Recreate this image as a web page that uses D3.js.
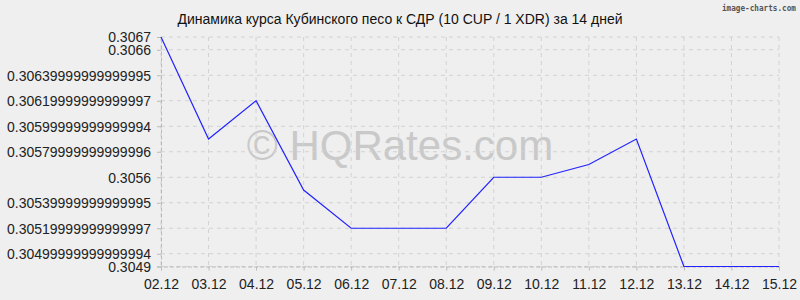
<!DOCTYPE html>
<html><head><meta charset="utf-8">
<script src="https://cdn.jsdelivr.net/npm/d3@7"></script>
<style>
html,body{margin:0;padding:0;background:#efefef;}
svg{display:block;font-family:"Liberation Sans",Arial,sans-serif;}
</style></head>
<body><svg id="c" width="800" height="300"></svg>
<script>
const title = "Динамика курса Кубинского песо к СДР (10 CUP / 1 XDR) за 14 дней";
const dates = ["02.12","03.12","04.12","05.12","06.12","07.12","08.12","09.12","10.12","11.12","12.12","13.12","14.12","15.12"];
const rates = [0.3067,0.3059,0.3062,0.3055,0.3052,0.3052,0.3052,0.3056,0.3056,0.3057,0.3059,0.3049,0.3049,0.3049];
const yTickValues = [0.3049,0.3050,0.3052,0.3054,0.3056,0.3058,0.3060,0.3062,0.3064,0.3066,0.3067];
const yTickLabels = ["0.3049","0.30499999999999994","0.30519999999999997","0.30539999999999995","0.3056","0.30579999999999996","0.30599999999999994","0.30619999999999997","0.30639999999999995","0.3066","0.3067"];

const svg = d3.select("#c");
const L = 161, R = 779, T = 37, B = 266.5;
const x = d3.scalePoint().domain(dates).range([L, R]);
const y = d3.scaleLinear().domain([0.3049, 0.3067]).range([B, T]);

svg.append("rect").attr("width",800).attr("height",300).attr("fill","#efefef");

// watermark
svg.append("text").attr("x",400).attr("y",160).attr("text-anchor","middle")
  .attr("font-size",42).attr("fill","#c9c9c9").text("© HQRates.com");

// grid
const grid = svg.append("g");
grid.selectAll("line.v").data(dates).join("line")
  .attr("x1",d=>x(d)).attr("x2",d=>x(d)).attr("y1",T).attr("y2",B)
  .attr("stroke","#d2d2d2").attr("stroke-dasharray","4,4");
grid.selectAll("line.h").data(yTickValues).join("line")
  .attr("x1",L).attr("x2",R).attr("y1",d=>y(d)).attr("y2",d=>y(d))
  .attr("stroke","#d2d2d2").attr("stroke-dasharray","4,4");

// axes
const ya = svg.append("g").attr("transform",`translate(${L},0)`)
  .call(d3.axisLeft(y).tickValues(yTickValues).tickFormat((d,i)=>yTickLabels[i]).tickSize(4).tickPadding(6));
const xa = svg.append("g").attr("transform",`translate(0,${B})`)
  .call(d3.axisBottom(x).tickSize(4).tickPadding(6));
[ya,xa].forEach(a=>{
  a.select(".domain").attr("stroke","#bbbbbb").attr("stroke-dasharray","4,2");
  a.selectAll(".tick line").attr("stroke","#bbbbbb");
  a.selectAll(".tick text").attr("font-size",14).attr("fill","#222")
   .attr("font-family","'Liberation Sans',Arial,sans-serif");
});
ya.selectAll(".tick text").attr("dy","0.35em");
xa.selectAll(".tick text").attr("dy","0.9em");

// line
svg.append("path").datum(rates)
  .attr("d", d3.line().x((d,i)=>x(dates[i])).y(d=>y(d)))
  .attr("fill","none").attr("stroke","#2222ff").attr("stroke-width",1.2);

// title
svg.append("text").attr("x",400).attr("y",24).attr("text-anchor","middle")
  .attr("font-size",14).attr("fill","#111").text(title);

// image-charts watermark
svg.append("text").attr("x",796).attr("y",10.5).attr("text-anchor","end")
  .attr("font-size",9).attr("font-weight","bold").attr("fill","#555")
  .attr("font-family","'DejaVu Sans Mono',monospace").attr("textLength",74)
  .attr("lengthAdjust","spacingAndGlyphs").text("image-charts.com");
</script></body></html>
